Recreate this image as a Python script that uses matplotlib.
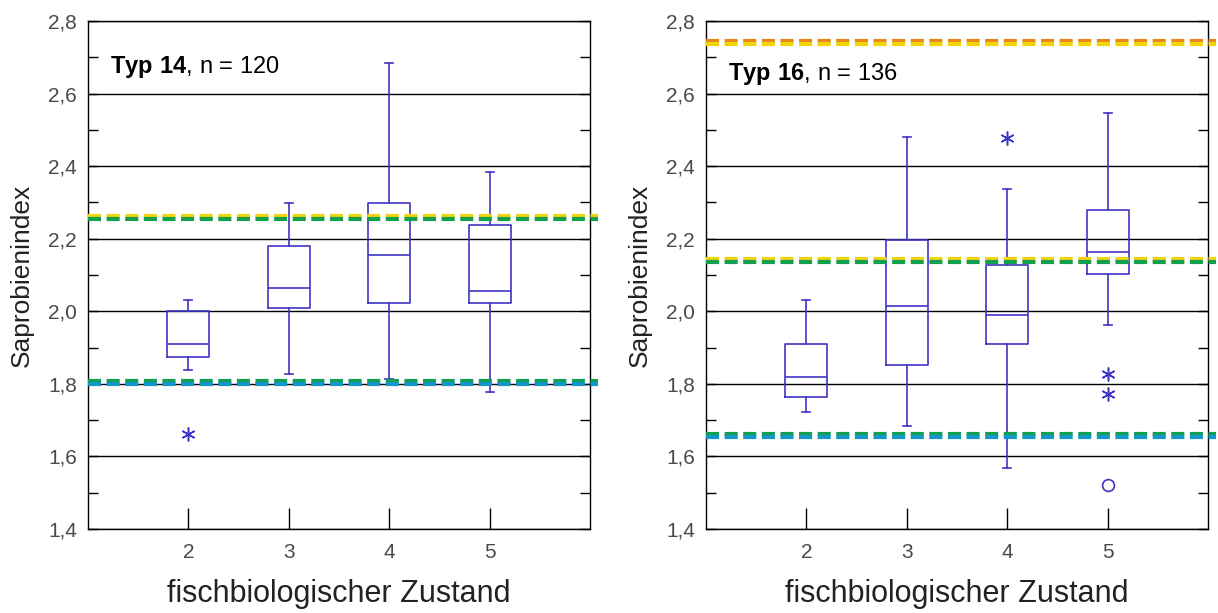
import matplotlib
matplotlib.use('Agg')
import matplotlib.pyplot as plt
from matplotlib.ticker import MultipleLocator, FuncFormatter

plt.rcParams['font.family'] = ['Liberation Sans', 'DejaVu Sans']
plt.rcParams['lines.scale_dashes'] = False
plt.rcParams['mathtext.fontset'] = 'custom'
plt.rcParams['mathtext.bf'] = 'Liberation Sans:bold'
plt.rcParams['mathtext.rm'] = 'Liberation Sans'

groups = [2, 3, 4, 5]

# Typ 14
t14_whislo = [1.839, 1.827, 1.814, 1.778]
t14_q1 = [1.873, 2.008, 2.022, 2.022]
t14_med = [1.909, 2.065, 2.156, 2.057]
t14_q3 = [2.001, 2.181, 2.298, 2.237]
t14_whishi = [2.032, 2.298, 2.683, 2.385]
t14_extreme = [[1.663], [], [], []]
t14_outlier = [[], [], [], []]
t14_lines = [(2.264, '#f2d40a'), (2.255, '#12a050'), (1.807, '#12a050'), (1.799, '#1596c8')]

# Typ 16
t16_whislo = [1.722, 1.683, 1.569, 1.963]
t16_q1 = [1.765, 1.852, 1.910, 2.103]
t16_med = [1.820, 2.015, 1.991, 2.163]
t16_q3 = [1.909, 2.197, 2.128, 2.279]
t16_whishi = [2.032, 2.481, 2.336, 2.547]
t16_extreme = [[], [], [2.477], [1.826, 1.773]]
t16_outlier = [[], [], [], [1.521]]
t16_lines = [(2.744, '#e8861a'), (2.736, '#f2d40a'), (2.144, '#f2d40a'), (2.135, '#12a050'),
             (1.661, '#12a050'), (1.653, '#1596c8')]

titles = [('14', '120'), ('16', '136')]

box_color = '#3f35c4'
tick_color = '#4a4a4a'

fig = plt.figure(figsize=(12.18, 6.13), dpi=100)
axes = [fig.add_axes([0.0722, 0.137, 0.4122, 0.8287]),
        fig.add_axes([0.5796, 0.137, 0.4122, 0.8287])]

data = [
    (t14_whislo, t14_q1, t14_med, t14_q3, t14_whishi, t14_extreme, t14_outlier, t14_lines),
    (t16_whislo, t16_q1, t16_med, t16_q3, t16_whishi, t16_extreme, t16_outlier, t16_lines),
]

for ax, d, (typ, n) in zip(axes, data, titles):
    wlo, q1, med, q3, whi, ext, outl, lines = d
    stats = []
    for i in range(len(groups)):
        stats.append(dict(whislo=wlo[i], q1=q1[i], med=med[i], q3=q3[i], whishi=whi[i], fliers=[]))
    ax.bxp(stats, positions=groups, widths=0.42, showfliers=False, manage_ticks=False,
           boxprops=dict(color=box_color, lw=1.2),
           whiskerprops=dict(color=box_color, lw=1.2),
           capprops=dict(color=box_color, lw=1.2),
           medianprops=dict(color=box_color, lw=1.2),
           capwidths=0.08, zorder=3)
    for g, vals in zip(groups, ext):
        if vals:
            ax.plot([g] * len(vals), vals, linestyle='none', marker=(6, 2, 0),
                    markersize=10, markeredgewidth=1.1, color=box_color, zorder=4)
    for g, vals in zip(groups, outl):
        if vals:
            ax.plot([g] * len(vals), vals, linestyle='none', marker='o',
                    markersize=8.5, markerfacecolor='none', markeredgewidth=1.2,
                    markeredgecolor=box_color, zorder=4)
    for y, c in lines:
        ax.axhline(y, xmin=0, xmax=1.016, color=c, lw=3.0, linestyle=(0, (9.4, 4.0)),
                   clip_on=False, zorder=5)

    ax.set_xlim(1, 6)
    ax.set_ylim(1.4, 2.8)
    ax.yaxis.set_major_locator(MultipleLocator(0.2))
    ax.yaxis.set_minor_locator(MultipleLocator(0.1))
    ax.set_xticks(groups)
    ax.set_xticklabels([str(g) for g in groups])
    ax.yaxis.set_major_formatter(FuncFormatter(lambda v, p: f'{v:.1f}'.replace('.', ',')))
    ax.grid(axis='y', which='major', color='black', lw=1.0, zorder=1)
    ax.tick_params(axis='y', which='both', direction='in', left=True, right=True,
                   length=7, width=1, labelsize=15, labelcolor=tick_color, pad=8)
    ax.tick_params(axis='x', which='major', direction='in', length=15, width=1,
                   labelsize=15, labelcolor=tick_color, pad=10)
    for s in ax.spines.values():
        s.set_linewidth(1.0)
        s.set_color('black')
    ax.set_ylabel('Saprobienindex', fontsize=19, color='#222222', labelpad=10)
    ax.set_xlabel('fischbiologischer Zustand', fontsize=22, color='#222222', labelpad=12)
    ax.text(0.043, 0.91 if typ == '14' else 0.895, r'$\mathbf{Typ\ ' + typ + '}$, n = ' + n,
            transform=ax.transAxes, fontsize=17, color='black', va='center', ha='left', zorder=6)

fig.savefig('out.png', dpi=100)
